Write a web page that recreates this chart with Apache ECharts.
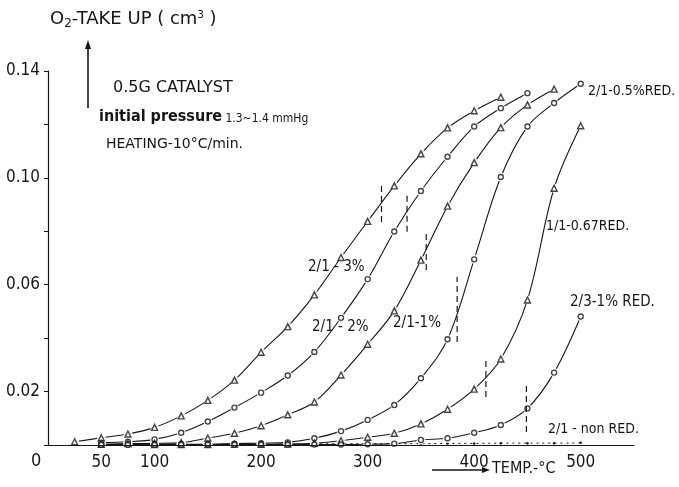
<!DOCTYPE html>
<html>
<head>
<meta charset="utf-8">
<script src="https://cdn.jsdelivr.net/npm/echarts@6/dist/echarts.min.js"></script>
<style>
  html, body { margin: 0; padding: 0; background: #fff; }
  #chart { width: 679px; height: 487px; }
</style>
</head>
<body>
<div id="chart"></div>
<script>
// Temperature of each reading (°C), one every 25 °C
const tempC = [25, 50, 75, 100, 125, 150, 175, 200, 225, 250, 275, 300, 325, 350, 375, 400, 425, 450, 475, 500, 525];

// O2 uptake (cm3) for each sample, aligned with tempC (null = no reading)
const up21_3 = [0.0012, 0.0027, 0.0041, 0.0066, 0.0109, 0.0167, 0.0243, 0.0347, 0.0443, 0.0562, 0.0702, 0.0837, 0.0970, 0.1090, 0.1187, 0.1251, 0.1302, null, null, null, null];
const up21_2 = [null, 0.0009, 0.0012, 0.0021, 0.0046, 0.0088, 0.0140, 0.0196, 0.0260, 0.0348, 0.0476, 0.0621, 0.0799, 0.0951, 0.1079, 0.1192, 0.1261, 0.1317, null, null, null];
const up21_1 = [null, 0.0003, 0.0005, 0.0006, 0.0009, 0.0026, 0.0044, 0.0072, 0.0113, 0.0161, 0.0262, 0.0377, 0.0502, 0.0692, 0.0894, 0.1057, 0.1188, 0.1273, 0.1332, null, null];
const up21_05 = [null, 0.0002, 0.0002, 0.0003, 0.0003, 0.0003, 0.0005, 0.0007, 0.0010, 0.0025, 0.0052, 0.0094, 0.0150, 0.0250, 0.0396, 0.0695, 0.1003, 0.1192, 0.1280, 0.1352, null];
const up11_067 = [null, null, null, 0.0002, 0.0002, 0.0002, 0.0003, 0.0003, 0.0004, 0.0006, 0.0016, 0.0029, 0.0044, 0.0079, 0.0134, 0.0209, 0.0322, 0.0543, 0.0961, 0.1195, null];
const up23_1 = [null, 0.0001, 0.0001, 0.0001, 0.0002, 0.0002, 0.0002, 0.0002, 0.0002, 0.0002, 0.0002, 0.0003, 0.0005, 0.0019, 0.0025, 0.0046, 0.0075, 0.0137, 0.0271, 0.0481, null];
const up21_non = [null, null, null, null, null, null, null, null, null, 0.0004, 0.0005, 0.0005, 0.0005, 0.0005, 0.0006, 0.0006, 0.0007, 0.0007, 0.0007, 0.0008, null];

// Short dashed vertical markers: temperature, lower and upper uptake
const markT = [313, 337, 355, 384, 411, 449];
const markLow = [0.0835, 0.0798, 0.0655, 0.0386, 0.0180, 0.0049];
const markHigh = [0.0974, 0.0944, 0.0805, 0.0629, 0.0326, 0.0236];

// Axis tick labels
const xLabels = [50, 100, 200, 300, 400, 500];
const yLabels = [0.02, 0.06, 0.10, 0.14];

const INK = '#161616';
const FONT = '"Liberation Sans Narrow", "DejaVu Sans Condensed", sans-serif';
const WIDE = '"DejaVu Sans", sans-serif';

function pairs(vals) {
  return tempC.map((t, i) => [t, vals[i]]).filter(p => p[1] !== null);
}

const curves = [
  { vals: up21_3, symbol: 'triangle' },
  { vals: up21_2, symbol: 'circle' },
  { vals: up21_1, symbol: 'triangle' },
  { vals: up21_05, symbol: 'circle' },
  { vals: up11_067, symbol: 'triangle' },
  { vals: up23_1, symbol: 'circle' }
];

const series = [];
curves.forEach(c => {
  const d = pairs(c.vals);
  series.push({
    type: 'line', data: d, smooth: 0.35, showSymbol: false, silent: true, z: 2,
    lineStyle: { color: INK, width: 1.1 }
  });
  // white halo so the line breaks around each reading
  series.push({
    type: 'scatter', data: d, symbol: 'circle', symbolSize: 9, silent: true, z: 3,
    itemStyle: { color: '#fff' }
  });
  series.push({
    type: 'scatter', data: d, symbol: c.symbol, symbolSize: c.symbol === 'triangle' ? 6 : 5, silent: true, z: 4,
    itemStyle: { color: '#fff', borderColor: INK, borderWidth: 1.4 }
  });
});

// non-reduced sample: dotted line of small dots
const nonData = pairs(up21_non);
series.push({
  type: 'line', data: nonData, smooth: true, showSymbol: true, symbol: 'circle', symbolSize: 2.5, silent: true, z: 2,
  itemStyle: { color: INK },
  lineStyle: { color: INK, width: 1, type: [2, 4] }
});

// dashed vertical markers
markT.forEach((t, i) => {
  series.push({
    type: 'line', data: [[t, markLow[i]], [t, markHigh[i]]], showSymbol: false, silent: true, z: 5,
    lineStyle: { color: INK, width: 1.2, type: [6, 4] }
  });
});

const txt = (x, y, text, size, family) => ({
  type: 'text', left: x, top: y, silent: true,
  style: { text: text, fill: INK, font: size + 'px ' + (family || FONT) }
});

const option = {
  animation: false,
  backgroundColor: '#fff',
  grid: { left: 48, right: 45, top: 71, bottom: 42 },
  xAxis: {
    type: 'value', min: 0, max: 550, interval: 50, z: 10,
    axisLine: { lineStyle: { color: INK, width: 1.2 } },
    axisTick: { show: false },
    splitLine: { show: false },
    axisLabel: {
      margin: 9, color: INK, fontFamily: FONT, fontSize: 17,
      formatter: v => (xLabels.indexOf(v) >= 0 ? String(v) : '')
    }
  },
  yAxis: {
    type: 'value', min: 0, max: 0.14, interval: 0.02,
    axisLine: { show: true, lineStyle: { color: INK, width: 1.2 } },
    axisTick: { show: true, length: 4, lineStyle: { color: INK, width: 1 } },
    splitLine: { show: false },
    axisLabel: {
      margin: 8, color: INK, fontFamily: FONT, fontSize: 17,
      formatter: v => (yLabels.some(l => Math.abs(l - v) < 1e-9) ? v.toFixed(2) : '')
    }
  },
  series: series,
  graphic: [
    // axis title with upward arrow
    {
      type: 'text', left: 50, top: 10, silent: true,
      style: {
        text: 'O{sub|2}-TAKE UP ( cm{sup|3} )',
        fill: INK, font: '18px ' + WIDE,
        rich: {
          sub: { fontSize: 12, fontFamily: WIDE, padding: [9, 0, 0, 0] },
          sup: { fontSize: 10, fontFamily: WIDE, padding: [0, 0, 8, 0] }
        }
      }
    },
    { type: 'line', silent: true, shape: { x1: 88, y1: 108, x2: 88, y2: 46 }, style: { stroke: INK, lineWidth: 1.6 } },
    { type: 'polygon', silent: true, shape: { points: [[85, 49], [91, 49], [88, 40]] }, style: { fill: INK } },

    // experiment conditions
    txt(113, 80, '0.5G CATALYST', 16, WIDE),
    {
      type: 'text', left: 99, top: 109, silent: true,
      style: {
        text: '{a|initial pressure}{b| 1.3~1.4 mmHg}', fill: INK,
        rich: {
          a: { fontSize: 16, fontFamily: FONT, fontWeight: 'bold', fill: INK },
          b: { fontSize: 12, fontFamily: FONT, fill: INK, padding: [3, 0, 0, 0] }
        }
      }
    },
    txt(106, 137, 'HEATING-10°C/min.', 14, WIDE),

    // curve labels
    txt(308, 260, '2/1 - 3%', 15),
    txt(312, 320, '2/1 - 2%', 15),
    txt(393, 316, '2/1-1%', 15),
    txt(588, 84, '2/1-0.5%RED.', 14),
    txt(546, 219, '1/1-0.67RED.', 14),
    txt(570, 295, '2/3-1% RED.', 15),
    txt(548, 422, '2/1 - non RED.', 14),

    // origin label
    txt(31, 452, '0', 18),

    // temperature axis title with arrow
    { type: 'line', silent: true, shape: { x1: 432, y1: 470, x2: 484, y2: 470 }, style: { stroke: INK, lineWidth: 1.3 } },
    { type: 'polygon', silent: true, shape: { points: [[482, 467], [482, 473], [490, 470]] }, style: { fill: INK } },
    txt(492, 461, 'TEMP.-°C', 16)
  ]
};

const chart = echarts.init(document.getElementById('chart'), null, { renderer: 'canvas' });
chart.setOption(option);
</script>
</body>
</html>
